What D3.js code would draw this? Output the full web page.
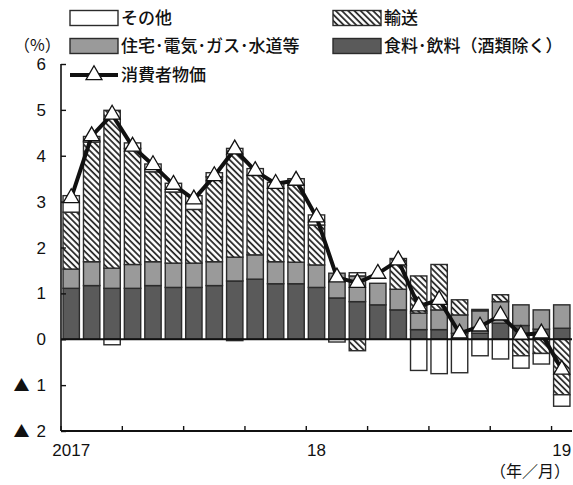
<!DOCTYPE html>
<html>
<head>
<meta charset="utf-8">
<script src="https://cdn.jsdelivr.net/npm/d3@7"></script>
<style>
  body { margin: 0; background: #fff; }
  svg { display: block; }
  text { fill: #111; }
</style>
</head>
<body>
<svg id="chart" width="573" height="485"></svg>
<script>
// Monthly categories, 2017/1 .. 2019/1
const months = [
  "2017/1","2017/2","2017/3","2017/4","2017/5","2017/6","2017/7","2017/8","2017/9","2017/10","2017/11","2017/12",
  "2018/1","2018/2","2018/3","2018/4","2018/5","2018/6","2018/7","2018/8","2018/9","2018/10","2018/11","2018/12",
  "2019/1"
];

// Contributions (percentage points)
const food      = [1.11,1.17,1.11,1.11,1.17,1.13,1.13,1.17,1.27,1.31,1.21,1.21,1.13,0.90,0.82,0.75,0.64,0.21,0.21,0.13,0.13,0.35,0.30,0.22,0.24];
const housing   = [0.42,0.52,0.44,0.52,0.52,0.53,0.53,0.52,0.52,0.53,0.48,0.47,0.49,0.54,0.56,0.47,0.45,0.36,0.43,0.40,0.49,0.47,0.45,0.42,0.51];
const transport = [1.24,2.61,3.44,2.53,1.96,1.55,1.17,1.85,2.37,1.74,1.60,1.68,0.87,0.00,-0.25,0.00,0.67,0.81,0.99,0.33,0.03,0.15,-0.36,-0.31,-1.21];
const other     = [0.36,0.12,-0.12,0.12,0.17,0.19,0.30,0.09,-0.03,0.14,0.13,0.14,0.22,-0.06,0.07,0.00,0.00,-0.68,-0.75,-0.73,-0.36,-0.43,-0.27,-0.23,-0.25];

// Consumer price index, year-on-year (%)
const cpi = [3.08,4.43,4.90,4.20,3.80,3.37,3.05,3.56,4.14,3.67,3.39,3.46,2.66,1.35,1.23,1.43,1.72,0.72,0.86,0.13,0.28,0.52,0.10,0.13,-0.66];

// Axis labels (negative values carry a ▲ prefix)
const yTickValues = [-2,-1,0,1,2,3,4,5,6];
const yTickLabels = ["2","1","0","1","2","3","4","5","6"];
const xLabelIndex = [0,12,24];
const xLabelText  = ["2017","18","19"];

// Legend entries
const seriesKeys   = ["food","housing","transport","other"];
const seriesNames  = {food:"食料･飲料（酒類除く）", housing:"住宅･電気･ガス･水道等", transport:"輸送", other:"その他"};
const cpiName = "消費者物価";

const svg = d3.select("#chart");
const plotLeft = 61, plotRight = 572, plotTop = 64, plotBottom = 431;

const x = d3.scaleBand().domain(months).range([plotLeft, plotRight]).paddingInner(0.2).paddingOuter(0.1);
const y = d3.scaleLinear().domain([-2, 6]).range([plotBottom, plotTop]);
const step = x.step();

const numFont = "'Liberation Sans Narrow', 'Liberation Sans', Arial, sans-serif";
const jpFont = "'Noto Sans CJK JP', sans-serif";

const defs = svg.append("defs");
const pat = defs.append("pattern")
  .attr("id", "hatch")
  .attr("patternUnits", "userSpaceOnUse")
  .attr("width", 4.4).attr("height", 10)
  .attr("patternTransform", "rotate(-45)");
pat.append("rect").attr("width", 4.4).attr("height", 10).attr("fill", "#fff");
pat.append("line").attr("x1", 1).attr("y1", 0).attr("x2", 1).attr("y2", 10)
  .attr("stroke", "#1e1e1e").attr("stroke-width", 1.7);

const fills = {food: "#5a5a5a", housing: "#9a9a9a", transport: "url(#hatch)", other: "#ffffff"};
const edge = "#2b2b2b";

// Stacked table built from the named arrays
const table = months.map((m, i) => ({
  month: m, food: food[i], housing: housing[i], transport: transport[i], other: other[i]
}));
const stacked = d3.stack().keys(seriesKeys).offset(d3.stackOffsetDiverging)(table);

const barG = svg.append("g");
stacked.forEach(layer => {
  barG.append("g").selectAll("rect")
    .data(layer.filter(d => Math.abs(d[1] - d[0]) > 1e-9))
    .join("rect")
    .attr("x", d => x(d.data.month))
    .attr("width", x.bandwidth())
    .attr("y", d => y(Math.max(d[0], d[1])))
    .attr("height", d => Math.abs(y(d[0]) - y(d[1])))
    .attr("fill", fills[layer.key])
    .attr("stroke", edge)
    .attr("stroke-width", 1.4);
});

// Zero line
svg.append("line")
  .attr("x1", plotLeft).attr("x2", plotRight)
  .attr("y1", y(0)).attr("y2", y(0))
  .attr("stroke", "#111").attr("stroke-width", 2.2);

// Y axis with inward ticks
const yAxis = svg.append("g").attr("transform", `translate(${plotLeft},0)`)
  .call(d3.axisRight(y).tickValues(yTickValues).tickSize(5).tickFormat(""));
yAxis.select(".domain").remove();
yAxis.selectAll(".tick line").attr("stroke", "#111").attr("stroke-width", 1.4);
svg.append("line").attr("x1", plotLeft).attr("x2", plotLeft).attr("y1", plotTop).attr("y2", plotBottom)
  .attr("stroke", "#111").attr("stroke-width", 1.6);

const yLab = svg.append("g").selectAll("text")
  .data(yTickValues)
  .join("text")
  .attr("x", 46)
  .attr("y", d => y(d))
  .attr("dy", "0.36em")
  .attr("text-anchor", "end")
  .attr("font-family", numFont)
  .attr("font-size", 17);
yLab.each(function(d, i) {
  const t = d3.select(this);
  if (d < 0) {
    t.append("tspan").attr("font-family", jpFont).attr("font-size", 16).text("▲");
    t.append("tspan").attr("dx", 7).text(yTickLabels[i]);
  } else {
    t.text(yTickLabels[i]);
  }
});

// X axis: quarterly ticks at month boundaries
const boundaryIdx = d3.range(0, 25, 3);
const tickX = i => x(months[i]) - step * x.paddingOuter();
svg.append("line").attr("x1", plotLeft).attr("x2", plotRight).attr("y1", plotBottom).attr("y2", plotBottom)
  .attr("stroke", "#111").attr("stroke-width", 1.8);
svg.append("g").selectAll("line")
  .data(boundaryIdx)
  .join("line")
  .attr("x1", tickX).attr("x2", tickX)
  .attr("y1", plotBottom).attr("y2", plotBottom - 5)
  .attr("stroke", "#111").attr("stroke-width", 1.4);

svg.append("g").selectAll("text")
  .data(xLabelIndex)
  .join("text")
  .attr("x", i => x(months[i]) + x.bandwidth() / 2)
  .attr("y", 456)
  .attr("text-anchor", "middle")
  .attr("font-family", numFont)
  .attr("font-size", 17)
  .text((d, i) => xLabelText[i]);

svg.append("text")
  .attr("x", 570).attr("y", 477)
  .attr("text-anchor", "end")
  .attr("font-family", jpFont)
  .attr("font-size", 16)
  .text("（年／月）");

svg.append("text")
  .attr("x", 14).attr("y", 51)
  .attr("font-family", jpFont)
  .attr("font-size", 16)
  .text("（%）");

// CPI line with triangle markers
const cx = (d, i) => x(months[i]) + x.bandwidth() / 2;
svg.append("path")
  .datum(cpi)
  .attr("d", d3.line().x(cx).y(d => y(d)))
  .attr("fill", "none")
  .attr("stroke", "#111")
  .attr("stroke-width", 4)
  .attr("stroke-linejoin", "round");

const tri = d3.symbol().type(d3.symbolTriangle).size(110);
svg.append("g").selectAll("path")
  .data(cpi)
  .join("path")
  .attr("transform", (d, i) => `translate(${cx(d, i)},${y(d)})`)
  .attr("d", tri)
  .attr("fill", "#fff")
  .attr("stroke", "#111")
  .attr("stroke-width", 1.3);

// Legend
const legend = svg.append("g").attr("font-family", jpFont).attr("font-size", 17).attr("font-weight", 500);
const boxW = 48, boxH = 15;
const legendItems = [
  {key: "other",     bx: 70,  cy: 18},
  {key: "transport", bx: 333, cy: 18},
  {key: "housing",   bx: 70,  cy: 46},
  {key: "food",      bx: 333, cy: 46}
];
legendItems.forEach(it => {
  legend.append("rect")
    .attr("x", it.bx).attr("y", it.cy - boxH / 2)
    .attr("width", boxW).attr("height", boxH)
    .attr("fill", fills[it.key]).attr("stroke", edge).attr("stroke-width", 1.4);
  legend.append("text")
    .attr("x", it.bx + boxW + 3).attr("y", it.cy)
    .attr("dy", "0.36em")
    .text(seriesNames[it.key]);
});
legend.append("line")
  .attr("x1", 70).attr("x2", 118).attr("y1", 75).attr("y2", 75)
  .attr("stroke", "#111").attr("stroke-width", 4);
legend.append("path")
  .attr("transform", "translate(94,75)")
  .attr("d", tri)
  .attr("fill", "#fff").attr("stroke", "#111").attr("stroke-width", 1.3);
legend.append("text")
  .attr("x", 121).attr("y", 75).attr("dy", "0.36em")
  .text(cpiName);
</script>
</body>
</html>
